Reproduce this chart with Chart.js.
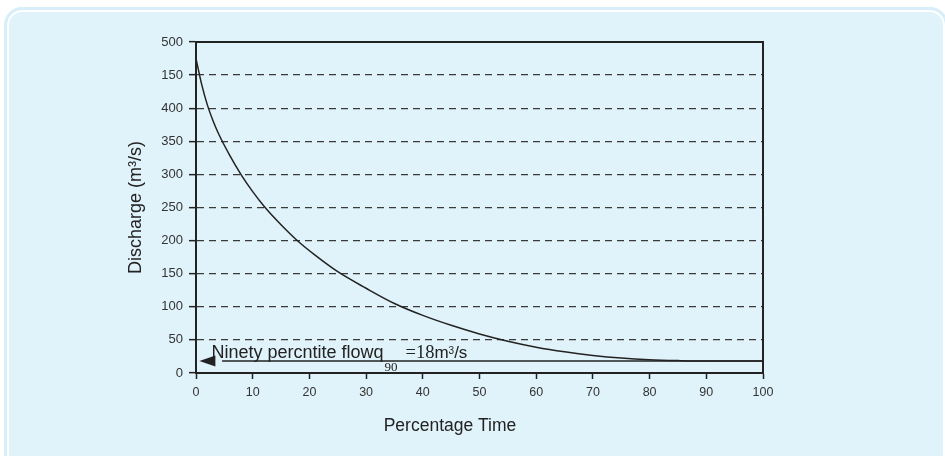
<!DOCTYPE html>
<html>
<head>
<meta charset="utf-8">
<title>Flow duration curve</title>
<script src="https://cdn.jsdelivr.net/npm/chart.js@4"></script>
<style>
  html, body { margin: 0; padding: 0; background: #fff; overflow: hidden; }
  #wrap { position: relative; width: 945px; height: 456px; }
  .panel {
    position: absolute; left: 4px; top: 7px; right: -3px; bottom: -30px;
    border: 3px solid #d8eef8; border-radius: 18px;
    background: #e0f3fa; box-shadow: inset 0 0 0 2px #fff;
  }
  canvas { position: absolute; left: 0; top: 0; }
</style>
</head>
<body>
<div id="wrap">
  <div class="panel"></div>
  <canvas id="myChart" width="945" height="456"></canvas>
</div>
<script>
// flow duration curve
const pctTime = [0, 1, 2, 3, 4, 6, 8, 10, 12, 15, 18, 21, 25, 30, 35, 40, 45, 50, 55, 60, 65, 70, 75, 80, 85, 90, 95, 100]
const discharge = [475, 436, 405, 381, 361, 328, 299, 274, 252, 224, 199, 178, 153, 128, 105, 87, 72, 59, 48, 39, 32, 26.5, 22.5, 20, 18.7, 18, 18, 18]

// y labels as printed (the 450 line is labelled 150 in the source)
const yTickLabels = ['0', '50', '100', '150', '200', '250', '300', '350', '400', '150', '500']

// ninety percentile flow and where the arrow ends
const q90 = 18
const arrowFrom = 100
const arrowTip = 0.6

const sans = "'Liberation Sans', Arial, sans-serif"
const serif = "'Liberation Serif', 'Times New Roman', serif"
const ink = '#222'

Chart.defaults.font.family = sans

const framePlugin = {
  id: 'frame',
  beforeDatasetsDraw(chart) {
    const { ctx, chartArea } = chart
    ctx.save()
    ctx.strokeStyle = ink
    ctx.lineWidth = 2
    ctx.beginPath()
    ctx.moveTo(chartArea.left, chartArea.top)
    ctx.lineTo(chartArea.right, chartArea.top)
    ctx.lineTo(chartArea.right, chartArea.bottom)
    ctx.stroke()
    ctx.restore()
  },
  afterDraw(chart) {
    // x axis title sits left of the plot centre
    const { ctx, chartArea } = chart
    ctx.save()
    ctx.fillStyle = ink
    ctx.font = '17.5px ' + sans
    ctx.textAlign = 'center'
    ctx.textBaseline = 'middle'
    ctx.fillText('Percentage Time', chartArea.left + 254, chartArea.bottom + 53)
    ctx.restore()
  }
}

const arrowPlugin = {
  id: 'q90arrow',
  afterDatasetsDraw(chart) {
    const { ctx } = chart
    const x = chart.scales.x
    const y = chart.scales.y
    const tipX = x.getPixelForValue(arrowTip)
    const lineY = y.getPixelForValue(q90)

    ctx.save()
    ctx.fillStyle = ink
    ctx.beginPath()
    ctx.moveTo(tipX, lineY)
    ctx.lineTo(tipX + 16, lineY - 5.5)
    ctx.lineTo(tipX + 16, lineY + 5.5)
    ctx.closePath()
    ctx.fill()

    // label: Ninety percntite flow q90 = 18 m3/s
    let tx = tipX + 12
    const base = lineY - 3
    ctx.textBaseline = 'alphabetic'
    ctx.textAlign = 'left'
    ctx.font = '18px ' + sans
    ctx.fillText('Ninety percntite flowq', tx, base)
    tx += ctx.measureText('Ninety percntite flowq').width + 1
    ctx.font = '13px ' + serif
    ctx.fillText('90', tx, base + 13)
    tx += ctx.measureText('90').width + 8
    ctx.font = '18.5px ' + serif
    ctx.fillText('=18', tx, base)
    tx += ctx.measureText('=18').width
    ctx.font = '17px ' + sans
    ctx.fillText('m', tx, base)
    tx += ctx.measureText('m').width
    ctx.font = '10px ' + sans
    ctx.fillText('3', tx, base - 4)
    tx += ctx.measureText('3').width
    ctx.font = '17px ' + sans
    ctx.fillText('/s', tx, base)
    ctx.restore()
  }
}

const ctx = document.getElementById('myChart').getContext('2d')

const myChart = new Chart(ctx, {
  type: 'line',
  data: {
    datasets: [{
      label: 'Discharge',
      data: pctTime.map((p, i) => ({ x: p, y: discharge[i] })),
      borderColor: ink,
      borderWidth: 1.5,
      pointRadius: 0,
      cubicInterpolationMode: 'monotone',
      fill: false
    }, {
      label: 'q90',
      data: [{ x: arrowFrom, y: q90 }, { x: arrowTip + 4, y: q90 }],
      borderColor: ink,
      borderWidth: 1.5,
      pointRadius: 0,
      fill: false
    }]
  },
  options: {
    responsive: false,
    animation: false,
    events: [],
    layout: {
      padding: { left: 0, right: 182, top: 42, bottom: 0 }
    },
    plugins: {
      legend: { display: false },
      tooltip: { enabled: false }
    },
    scales: {
      x: {
        type: 'linear',
        min: 0,
        max: 100,
        ticks: {
          stepSize: 10,
          color: '#333',
          font: { size: 12.5 },
          padding: 6,
          maxRotation: 0
        },
        grid: {
          drawOnChartArea: false,
          tickLength: 6,
          tickColor: ink,
          tickWidth: 1.5
        },
        border: { color: ink, width: 2 },
        afterFit: (s) => { s.height = 83 }
      },
      y: {
        type: 'linear',
        min: 0,
        max: 500,
        ticks: {
          stepSize: 50,
          autoSkip: false,
          color: '#333',
          font: { size: 13 },
          padding: 6,
          callback: (v) => yTickLabels[Math.round(v / 50)]
        },
        grid: {
          color: (c) => (c.tick && c.tick.value > 0 && c.tick.value < 500) ? '#3a3a3a' : 'transparent',
          lineWidth: 1.3,
          tickLength: 7,
          tickColor: ink,
          tickWidth: 1.5
        },
        border: { color: ink, width: 2, dash: [7, 5] },
        title: {
          display: true,
          text: 'Discharge (m³/s)',
          color: ink,
          font: { size: 18 },
          padding: { top: 125, bottom: 0 }
        },
        afterFit: (s) => { s.width = 196 }
      }
    }
  },
  plugins: [framePlugin, arrowPlugin]
})
</script>
</body>
</html>
